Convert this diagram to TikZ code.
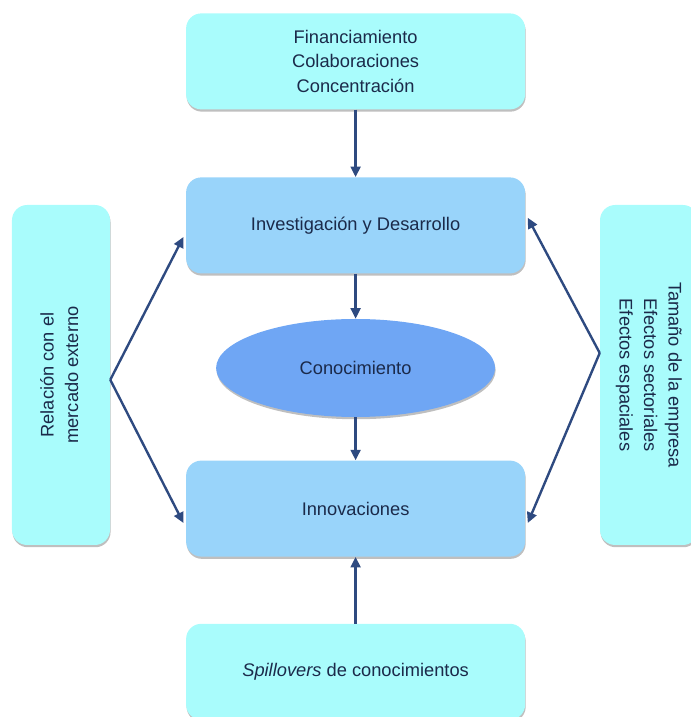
\documentclass[tikz,border=0pt]{standalone}
\usepackage{fontspec}
\setmainfont{Liberation Sans}
\usetikzlibrary{arrows.meta, positioning, shapes.geometric, shadows}
\definecolor{Aqua}{HTML}{A9FCFC}
\definecolor{SkyBlue}{HTML}{99D4FA}
\definecolor{MidBlue}{HTML}{6FA6F4}
\definecolor{ArrowBlue}{HTML}{2E4A80}
\definecolor{TextNavy}{HTML}{1B2A4A}

\tikzset{
  boxbase/.style={rounded corners=0.38cm, text=TextNavy, align=center,
    font=\fontsize{13}{17.4}\selectfont,
    drop shadow={shadow xshift=0.4pt, shadow yshift=-1.6pt, fill=black, opacity=0.25}},
  factorbox/.style={boxbase, fill=Aqua, minimum width=8.475cm, minimum height=2.4cm},
  sidebox/.style={boxbase, fill=Aqua, minimum width=2.45cm, minimum height=8.5cm},
  corebox/.style={boxbase, fill=SkyBlue, minimum width=8.475cm, minimum height=2.4cm},
  flow/.style={ArrowBlue, line width=1.7pt, -{Triangle[length=7.5pt,width=7pt]}}
}

\begin{document}
\begin{tikzpicture}
  \useasboundingbox (0,0) rectangle (17.25,17.925);
  % Main column
  \node[factorbox] (fin) at (8.89, 16.39)
    {Financiamiento\\Colaboraciones\\Concentración};
  \node[corebox] (id) at (8.89, 12.29) {Investigación y Desarrollo};
  \node[ellipse, fill=MidBlue, text=TextNavy, minimum width=6.975cm, minimum height=2.45cm,
        font=\fontsize{13}{17.4}\selectfont,
        drop shadow={shadow xshift=0.4pt, shadow yshift=-1.6pt, fill=black, opacity=0.25}]
    (conoc) at (8.89, 8.725) {Conocimiento};
  \node[corebox] (innov) at (8.89, 5.21) {Innovaciones};
  \node[factorbox] (spill) at (8.89, 1.13) {\textit{Spillovers} de conocimientos};
  % Side boxes
  \node[sidebox] (rel) at (1.525, 8.55)
    {\rotatebox{90}{\begin{tabular}{@{}c@{}}Relación con el\\mercado externo\end{tabular}}};
  \node[sidebox] (tam) at (16.225, 8.55)
    {\rotatebox{-90}{\begin{tabular}{@{}c@{}}Tamaño de la empresa\\Efectos sectoriales\\Efectos espaciales\end{tabular}}};
  % Vertical flow
  \draw[flow] (fin) -- (id);
  \draw[flow] (id) -- (conoc);
  \draw[flow] (conoc) -- (innov);
  \draw[flow] (spill) -- (innov);
  % Side arrows
  \draw[flow] ([yshift=-0.12cm]rel.east) -- ([xshift=-0.06cm, yshift=-0.29cm]id.west);
  \draw[flow] ([yshift=-0.12cm]rel.east) -- ([xshift=-0.06cm, yshift=-0.36cm]innov.west);
  \draw[flow] ([yshift=0.55cm]tam.west) -- ([xshift=0.06cm, yshift=0.19cm]id.east);
  \draw[flow] ([yshift=0.55cm]tam.west) -- ([xshift=0.06cm, yshift=-0.36cm]innov.east);
\end{tikzpicture}
\end{document}
